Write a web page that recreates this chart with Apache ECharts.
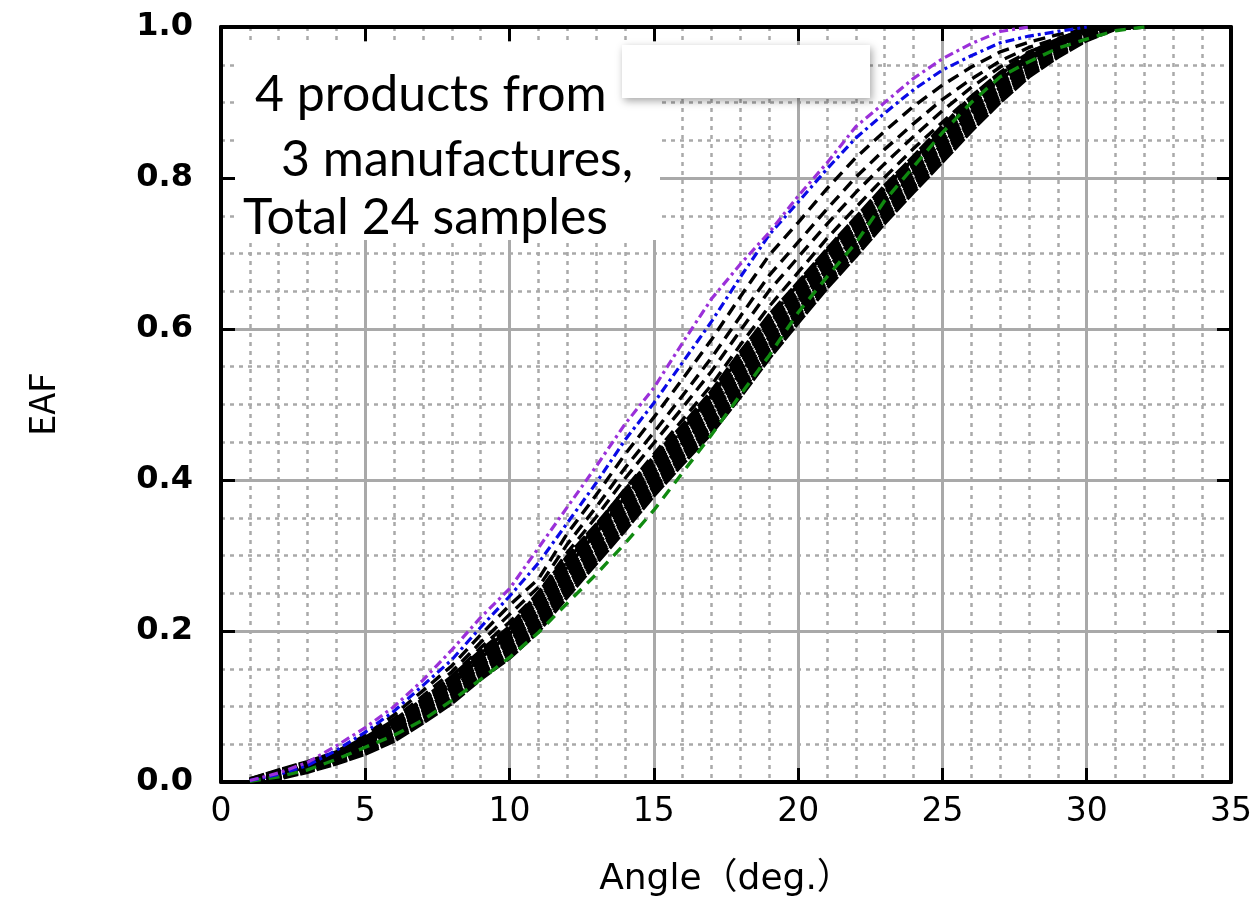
<!DOCTYPE html>
<html>
<head>
<meta charset="utf-8">
<script src="https://cdn.jsdelivr.net/npm/echarts@6/dist/echarts.min.js"></script>
<style>
  html, body { margin: 0; padding: 0; background: #fff; }
  #chart { width: 1256px; height: 904px; }
</style>
</head>
<body>
<div id="chart"></div>
<script>
// Angle grid (deg.) shared by every empirical accumulation curve
const angles = [1,2,3,4,5,6,7,8,9,10,11,12,13,14,15,16,17,18,19,20,21,22,23,24,25,26,27,28,29,30,31,32];

// Tick labels
const xTickLabels = ['0','5','10','15','20','25','30','35'];
const yTickLabels = ['0.0','0.2','0.4','0.6','0.8','1.0'];

// Highlighted samples
const eafPurple = [0.002,0.012,0.026,0.048,0.072,0.1,0.135,0.175,0.218,0.256,0.31,0.364,0.418,0.474,0.522,0.582,0.64,0.686,0.728,0.776,0.82,0.868,0.9,0.932,0.958,0.978,0.994,1.0,null,null,null,null];
const eafBlue   = [0.002,0.01,0.022,0.042,0.066,0.094,0.128,0.162,0.205,0.246,0.29,0.343,0.396,0.453,0.502,0.556,0.61,0.669,0.725,0.768,0.812,0.853,0.886,0.917,0.943,0.962,0.979,0.988,0.994,1.0,null,null];
const eafGreen  = [0.001,0.007,0.016,0.03,0.046,0.062,0.082,0.108,0.136,0.165,0.198,0.237,0.275,0.316,0.36,0.41,0.46,0.513,0.565,0.622,0.669,0.714,0.77,0.815,0.86,0.9,0.934,0.954,0.972,0.984,0.995,1.0];

// Separate black dashed samples
const eafDash1 = [0.001,0.01,0.022,0.04,0.062,0.089,0.121,0.154,0.195,0.234,0.269,0.329,0.38,0.434,0.483,0.534,0.586,0.643,0.698,0.741,0.786,0.827,0.862,0.895,0.923,0.947,0.967,0.98,0.99,0.998,1.0,null];
const eafDash2 = [0.001,0.01,0.021,0.038,0.059,0.084,0.114,0.146,0.185,0.222,0.258,0.315,0.364,0.416,0.463,0.512,0.562,0.617,0.671,0.715,0.759,0.801,0.838,0.872,0.904,0.931,0.955,0.973,0.985,0.996,1.0,null];
const eafDash3 = [0.001,0.01,0.021,0.036,0.056,0.08,0.109,0.14,0.178,0.212,0.25,0.304,0.351,0.402,0.449,0.496,0.544,0.598,0.651,0.695,0.739,0.781,0.819,0.855,0.889,0.92,0.947,0.967,0.982,0.995,1.0,null];
const eafDash4 = [0.001,0.01,0.021,0.035,0.053,0.076,0.104,0.134,0.17,0.203,0.242,0.293,0.339,0.388,0.434,0.48,0.526,0.579,0.63,0.675,0.72,0.761,0.801,0.839,0.874,0.908,0.938,0.961,0.979,0.993,1.0,null];
const eafDash5 = [0.001,0.01,0.02,0.034,0.051,0.073,0.1,0.129,0.164,0.196,0.235,0.285,0.33,0.377,0.422,0.467,0.512,0.563,0.614,0.659,0.704,0.746,0.787,0.825,0.863,0.899,0.931,0.957,0.976,0.992,1.0,null];

// Main group of samples (close together)
const eafGroup01 = [0.004,0.016,0.027,0.04,0.059,0.082,0.11,0.14,0.174,0.206,0.251,0.299,0.341,0.387,0.431,0.473,0.518,0.57,0.619,0.662,0.706,0.748,0.79,0.829,0.869,0.908,0.94,0.966,0.984,0.998,1.0,null];
const eafGroup02 = [0.004,0.015,0.026,0.039,0.057,0.08,0.108,0.137,0.171,0.203,0.247,0.295,0.337,0.383,0.427,0.469,0.514,0.565,0.614,0.658,0.702,0.744,0.786,0.825,0.865,0.904,0.937,0.963,0.982,0.997,1.0,null];
const eafGroup03 = [0.003,0.014,0.024,0.038,0.055,0.077,0.105,0.134,0.168,0.199,0.243,0.29,0.333,0.378,0.423,0.464,0.509,0.56,0.609,0.653,0.698,0.739,0.782,0.821,0.861,0.9,0.933,0.96,0.98,0.996,1.0,null];
const eafGroup04 = [0.003,0.013,0.023,0.037,0.054,0.075,0.102,0.131,0.165,0.196,0.239,0.286,0.329,0.374,0.419,0.46,0.504,0.555,0.605,0.649,0.694,0.735,0.778,0.817,0.857,0.897,0.93,0.958,0.978,0.995,1.0,null];
const eafGroup05 = [0.003,0.013,0.024,0.036,0.055,0.074,0.103,0.13,0.166,0.195,0.24,0.285,0.33,0.373,0.42,0.459,0.505,0.554,0.606,0.648,0.695,0.734,0.779,0.816,0.858,0.896,0.931,0.957,0.979,0.994,1.0,null];
const eafGroup06 = [0.002,0.012,0.022,0.035,0.052,0.073,0.099,0.128,0.161,0.192,0.234,0.281,0.324,0.369,0.414,0.456,0.499,0.55,0.6,0.644,0.689,0.731,0.773,0.813,0.853,0.893,0.927,0.955,0.976,0.993,1.0,null];
const eafGroup07 = [0.002,0.011,0.021,0.034,0.05,0.071,0.097,0.125,0.158,0.189,0.23,0.277,0.32,0.365,0.41,0.452,0.495,0.545,0.595,0.64,0.685,0.727,0.769,0.809,0.849,0.889,0.924,0.953,0.974,0.992,1.0,null];
const eafGroup08 = [0.001,0.01,0.02,0.032,0.048,0.068,0.094,0.122,0.155,0.185,0.225,0.272,0.315,0.36,0.405,0.447,0.49,0.54,0.59,0.635,0.68,0.722,0.765,0.805,0.845,0.885,0.92,0.95,0.972,0.99,1.0,null];
const eafGroup09 = [0.001,0.011,0.019,0.033,0.047,0.069,0.093,0.124,0.154,0.187,0.224,0.274,0.313,0.362,0.404,0.449,0.489,0.542,0.588,0.637,0.679,0.724,0.764,0.807,0.844,0.887,0.919,0.951,0.971,0.991,1.0,null];
const eafGroup10 = [0.001,0.009,0.019,0.031,0.046,0.066,0.092,0.119,0.152,0.182,0.221,0.268,0.311,0.356,0.401,0.443,0.486,0.535,0.585,0.631,0.676,0.718,0.761,0.801,0.841,0.881,0.917,0.948,0.97,0.989,1.0,null];
const eafGroup11 = [0.0,0.008,0.018,0.029,0.044,0.063,0.089,0.116,0.149,0.178,0.216,0.263,0.306,0.351,0.396,0.438,0.481,0.53,0.58,0.626,0.671,0.713,0.757,0.797,0.837,0.877,0.913,0.945,0.968,0.987,0.999,1.0];
const eafGroup12 = [0.0,0.007,0.017,0.028,0.043,0.061,0.086,0.113,0.146,0.175,0.212,0.259,0.302,0.347,0.392,0.434,0.476,0.525,0.576,0.622,0.667,0.709,0.753,0.793,0.833,0.874,0.91,0.943,0.966,0.986,0.999,1.0];
const eafGroup13 = [0.0,0.006,0.017,0.027,0.042,0.06,0.085,0.111,0.144,0.173,0.21,0.256,0.3,0.344,0.39,0.432,0.474,0.522,0.574,0.619,0.664,0.707,0.751,0.79,0.831,0.872,0.909,0.941,0.965,0.985,0.999,1.0];
const eafGroup14 = [0.0,0.006,0.016,0.026,0.041,0.059,0.083,0.11,0.142,0.171,0.207,0.254,0.297,0.342,0.387,0.43,0.471,0.52,0.571,0.617,0.662,0.705,0.748,0.789,0.829,0.87,0.907,0.94,0.964,0.984,0.998,1.0];
const eafGroup15 = [0.0,0.005,0.015,0.025,0.039,0.057,0.081,0.107,0.139,0.168,0.203,0.25,0.293,0.338,0.383,0.426,0.467,0.515,0.566,0.613,0.658,0.701,0.744,0.785,0.825,0.866,0.904,0.937,0.962,0.983,0.998,1.0];
const eafGroup16 = [0.0,0.004,0.013,0.024,0.037,0.054,0.078,0.104,0.136,0.164,0.199,0.245,0.289,0.333,0.379,0.421,0.462,0.51,0.561,0.608,0.654,0.696,0.74,0.781,0.821,0.862,0.9,0.934,0.96,0.982,0.997,1.0];

const groupSamples = [eafGroup01,eafGroup02,eafGroup03,eafGroup04,eafGroup05,eafGroup06,eafGroup07,eafGroup08,
                      eafGroup09,eafGroup10,eafGroup11,eafGroup12,eafGroup13,eafGroup14,eafGroup15,eafGroup16];
const dashSamples = [eafDash1,eafDash2,eafDash3,eafDash4,eafDash5];

function curve(name, values, color, dash, width) {
  return {
    name: name,
    type: 'line',
    symbol: 'none',
    silent: true,
    connectNulls: false,
    data: angles.map((a, i) => [a, values[i]]),
    lineStyle: { color: color, width: width, type: dash, cap: 'butt', join: 'miter' }
  };
}

const series = [];
groupSamples.forEach((v, i) => series.push(curve('group' + (i + 1), v, '#000', [15, 2], 3.5)));
dashSamples.forEach((v, i) => series.push(curve('dash' + (i + 1), v, '#000', [12, 7], 3.4)));
series.push(curve('green', eafGreen, '#108a10', [11, 8], 3.4));
series.push(curve('blue', eafBlue, '#0a0ae6', [9, 4, 3, 4], 3.2));
series.push(curve('purple', eafPurple, '#9b30d9', [9, 4, 3, 4], 3.2));

const gridGray = '#a9a9a9';
const frame = { show: true, onZero: false, lineStyle: { color: '#000', width: 4 } };
const inTicks = { show: true, inside: true, length: 14, lineStyle: { color: '#000', width: 3 } };
const majorGrid = { show: true, lineStyle: { color: gridGray, width: 3, type: 'solid' } };
const minorGrid = { show: true, lineStyle: { color: gridGray, width: 2.5, type: [4, 5] } };

const chart = echarts.init(document.getElementById('chart'), null, { renderer: 'canvas' });
chart.setOption({
  animation: false,
  backgroundColor: '#fff',
  grid: { left: 221, right: 25, top: 27, bottom: 122 },
  xAxis: [{
    type: 'value', min: 0, max: 35, interval: 5, position: 'bottom',
    name: 'Angle（deg.）', nameLocation: 'middle', nameGap: 80,
    nameTextStyle: { fontFamily: "'DejaVu Sans', 'Noto Sans CJK JP'", fontSize: 36, color: '#000' },
    axisLine: frame, axisTick: inTicks,
    axisLabel: {
      margin: 14, color: '#000', fontFamily: 'DejaVu Sans', fontSize: 33,
      formatter: v => xTickLabels[Math.round(v / 5)]
    },
    splitLine: majorGrid,
    minorTick: { show: false, splitNumber: 5 },
    minorSplitLine: minorGrid
  }, {
    type: 'value', min: 0, max: 35, interval: 5, position: 'top',
    axisLine: frame, axisTick: inTicks, axisLabel: { show: false }, splitLine: { show: false }
  }],
  yAxis: [{
    type: 'value', min: 0, max: 1, interval: 0.2, position: 'left',
    name: 'EAF', nameLocation: 'middle', nameGap: 162,
    nameTextStyle: { fontFamily: "'Noto Sans CJK JP'", fontSize: 36, color: '#000' },
    axisLine: frame, axisTick: inTicks,
    axisLabel: {
      margin: 28, color: '#000', fontFamily: 'DejaVu Sans', fontWeight: 'bold', fontSize: 32,
      formatter: v => yTickLabels[Math.round(v / 0.2)]
    },
    splitLine: majorGrid,
    minorTick: { show: false, splitNumber: 4 },
    minorSplitLine: minorGrid
  }, {
    type: 'value', min: 0, max: 1, interval: 0.2, position: 'right',
    axisLine: frame, axisTick: inTicks, axisLabel: { show: false }, splitLine: { show: false }
  }],
  series: series,
  graphic: [
    // white backing behind the annotation
    { type: 'rect', z: 50, shape: { x: 235, y: 42, width: 425, height: 198 }, style: { fill: '#fff' } },
    // blank label panel near the top
    { type: 'rect', z: 50, shape: { x: 622, y: 45, width: 248, height: 53 },
      style: { fill: '#fff', shadowBlur: 8, shadowColor: 'rgba(0,0,0,0.35)', shadowOffsetX: 2, shadowOffsetY: 3 } },
    { type: 'text', z: 60, left: 255, top: 70,
      style: { text: '4 products from', font: '50px Lato', fill: '#000' } },
    { type: 'text', z: 60, left: 281, top: 135,
      style: { text: '3 manufactures,', font: '50px Lato', fill: '#000' } },
    { type: 'text', z: 60, left: 243, top: 193,
      style: { text: 'Total 24 samples', font: '50px Lato', fill: '#000' } }
  ]
});
</script>
</body>
</html>
